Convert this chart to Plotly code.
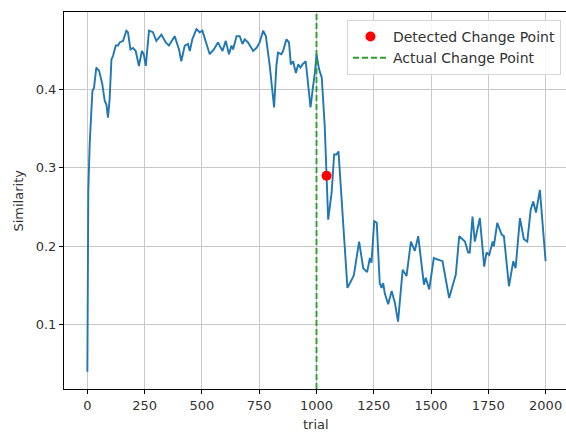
import plotly.graph_objects as go

trial = [0, 4, 10, 18, 22, 29, 39, 51, 65, 76, 83, 90, 97, 105, 112, 124, 134, 141, 156, 170, 177,
         188, 199, 211, 225, 238, 246, 255, 269, 286, 301, 323, 342, 356, 381, 400, 410, 425, 439,
         447, 458, 476, 490, 502, 517, 534, 552, 570, 590, 604, 618, 629, 636, 651, 665, 677, 687,
         701, 716, 723, 738, 752, 767, 779, 796, 815, 825, 832, 847, 854, 869, 880, 888, 898, 910,
         920, 930, 939, 953, 963, 974, 985, 993, 1000, 1011, 1023, 1036, 1051, 1066, 1077, 1087,
         1096, 1102, 1116, 1135, 1153, 1163, 1186, 1204, 1221, 1233, 1240, 1252, 1263, 1276, 1284,
         1291, 1298, 1313, 1328, 1342, 1356, 1376, 1393, 1412, 1429, 1444, 1469, 1477, 1492, 1512,
         1531, 1550, 1579, 1597, 1608, 1623, 1638, 1648, 1662, 1669, 1681, 1691, 1713, 1732, 1742,
         1754, 1769, 1774, 1789, 1808, 1818, 1840, 1859, 1869, 1888, 1905, 1920, 1935, 1946, 1958,
         1975, 1987, 2000]
similarity = [0.040, 0.270, 0.330, 0.390, 0.398, 0.402, 0.428, 0.424, 0.407, 0.385, 0.381, 0.364,
              0.387, 0.438, 0.443, 0.456, 0.456, 0.460, 0.462, 0.475, 0.473, 0.451, 0.453, 0.449,
              0.430, 0.449, 0.445, 0.430, 0.475, 0.473, 0.462, 0.470, 0.460, 0.456, 0.468, 0.451,
              0.436, 0.456, 0.458, 0.449, 0.464, 0.477, 0.473, 0.475, 0.460, 0.445, 0.451, 0.460,
              0.449, 0.462, 0.445, 0.456, 0.451, 0.468, 0.468, 0.458, 0.464, 0.460, 0.453, 0.449,
              0.453, 0.460, 0.475, 0.468, 0.430, 0.377, 0.430, 0.447, 0.445, 0.449, 0.464, 0.460,
              0.432, 0.436, 0.421, 0.432, 0.428, 0.432, 0.436, 0.409, 0.377, 0.404, 0.421, 0.445,
              0.426, 0.415, 0.353, 0.234, 0.268, 0.317, 0.317, 0.321, 0.294, 0.243, 0.147, 0.157,
              0.163, 0.206, 0.172, 0.167, 0.185, 0.179, 0.232, 0.230, 0.153, 0.147, 0.153, 0.140,
              0.126, 0.143, 0.128, 0.104, 0.170, 0.162, 0.206, 0.194, 0.213, 0.151, 0.160, 0.145,
              0.185, 0.183, 0.181, 0.134, 0.153, 0.164, 0.213, 0.209, 0.206, 0.192, 0.192, 0.238,
              0.206, 0.236, 0.174, 0.192, 0.189, 0.206, 0.200, 0.230, 0.215, 0.213, 0.149, 0.181,
              0.172, 0.236, 0.209, 0.206, 0.247, 0.257, 0.243, 0.272, 0.223, 0.181]

detected_x = [1044]
detected_y = [0.290]
actual_cp = 1000

x_range = [-102, 2089]
y_range = [0.018, 0.4988]
x_ticks = [0, 250, 500, 750, 1000, 1250, 1500, 1750, 2000]
y_ticks = [0.1, 0.2, 0.3, 0.4, 0.5]

FONT = "DejaVu Sans"

fig = go.Figure()
fig.add_trace(go.Scatter(x=trial, y=similarity, mode="lines",
                         line=dict(color="#1f77b4", width=1.9), showlegend=False))
fig.add_trace(go.Scatter(x=[actual_cp, actual_cp], y=y_range, mode="lines",
                         line=dict(color="#2ca02c", width=1.9, dash="6px,3px"),
                         name="Actual Change Point", legendrank=2))
fig.add_trace(go.Scatter(x=detected_x, y=detected_y, mode="markers",
                         marker=dict(color="red", size=10),
                         name="Detected Change Point", legendrank=1))

axis_common = dict(showgrid=True, gridcolor="#c8c8c8", gridwidth=1, zeroline=False,
                   showline=True, linecolor="black", linewidth=1, automargin=False,
                   ticks="outside", ticklen=4, tickcolor="black",
                   tickfont=dict(family=FONT, size=13, color="#333333"))

fig.update_layout(
    width=566, height=434,
    margin=dict(l=64, r=0, t=12, b=45),
    paper_bgcolor="white", plot_bgcolor="white",
    font=dict(family=FONT, size=13, color="#333333"),
    xaxis=dict(range=x_range, tickvals=x_ticks, mirror=True, **axis_common),
    yaxis=dict(range=y_range, tickvals=y_ticks, tickformat=".1f", **axis_common),
    legend=dict(x=0.99, y=0.979, xanchor="right", yanchor="top", itemwidth=35,
                bgcolor="rgba(255,255,255,0.85)", bordercolor="#d6d6d6", borderwidth=1,
                font=dict(family=FONT, size=14, color="#333333"),
                traceorder="normal"),
    annotations=[
        dict(text="trial", xref="paper", yref="paper", x=(316 - 64) / 502, y=-0.093,
             showarrow=False, xanchor="center", yanchor="middle",
             font=dict(family=FONT, size=13, color="#333333")),
        dict(text="Similarity", xref="paper", yref="paper", x=-0.0916, y=0.5, textangle=-90,
             showarrow=False, xanchor="center", yanchor="middle",
             font=dict(family=FONT, size=13, color="#333333")),
    ],
)
fig.write_html("out.html", config={"displayModeBar": False},
               post_script="document.body.style.margin='0';document.body.style.overflow='hidden';")
